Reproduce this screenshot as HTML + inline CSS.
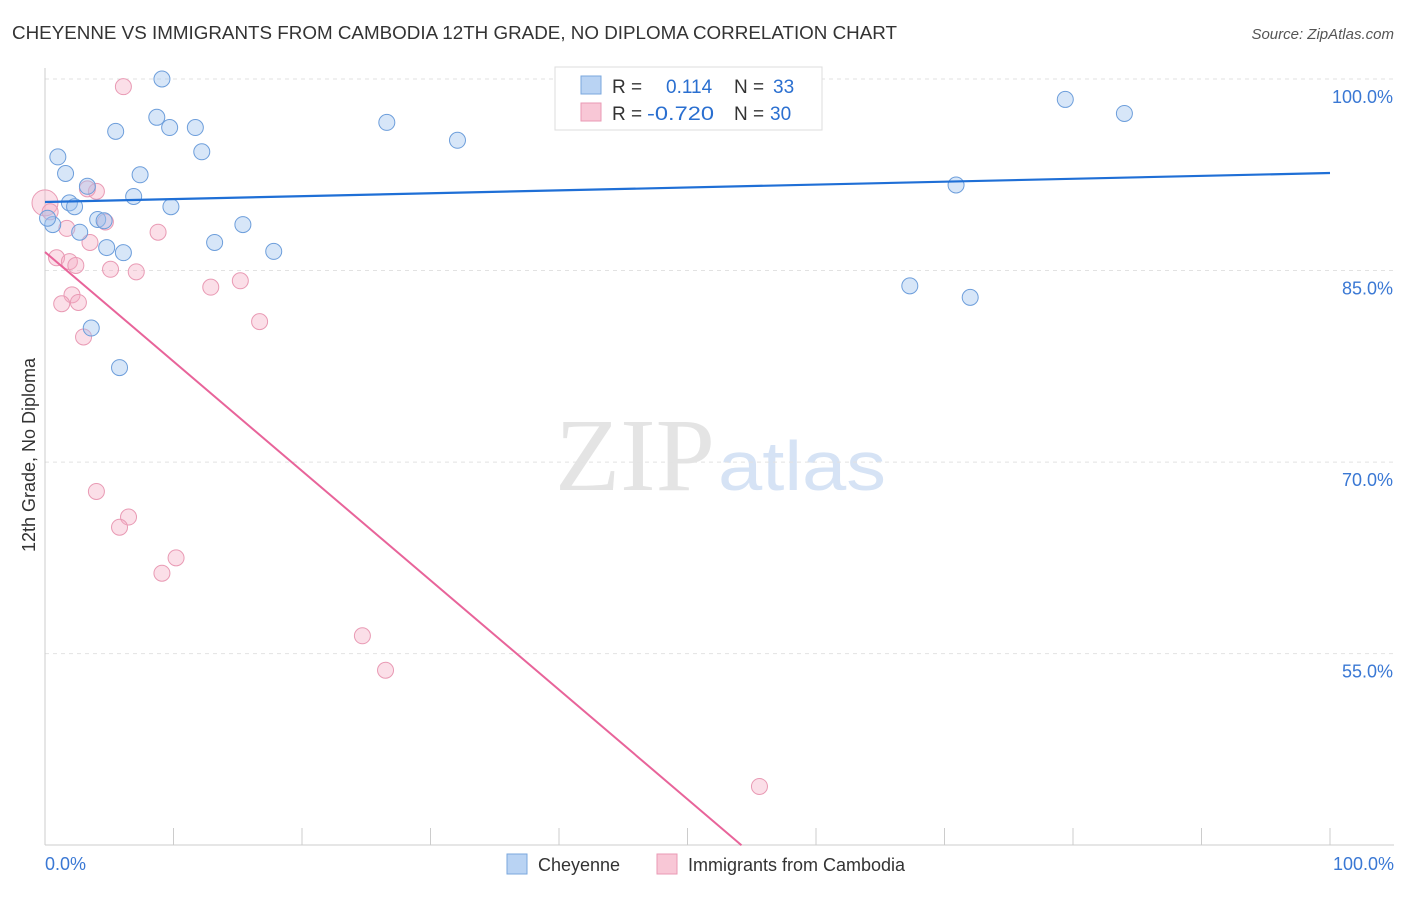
<!DOCTYPE html>
<html><head><meta charset="utf-8"><style>
body{margin:0;background:#fff;font-family:"Liberation Sans",sans-serif}
svg text{font-family:"Liberation Sans",sans-serif}
</style></head><body>
<svg id="chart" width="1406" height="892">
<text x="12" y="39" font-size="18" fill="#333" textLength="885" lengthAdjust="spacingAndGlyphs">CHEYENNE VS IMMIGRANTS FROM CAMBODIA 12TH GRADE, NO DIPLOMA CORRELATION CHART</text>
<text x="1394" y="39" font-size="15" fill="#555" font-style="italic" text-anchor="end">Source: ZipAtlas.com</text>
<text x="555" y="490" font-size="104" fill="#e4e4e4" textLength="160" lengthAdjust="spacingAndGlyphs" style="font-family:'Liberation Serif',serif">ZIP</text>
<text x="718" y="490" font-size="70" fill="#d6e3f5" textLength="168" lengthAdjust="spacingAndGlyphs">atlas</text>
<text transform="translate(35,455) rotate(-90)" font-size="18" fill="#333" text-anchor="middle">12th Grade, No Diploma</text>
<g id="grid"></g><g id="pts"></g><g id="lines"></g>
<g>
<rect x="555" y="67" width="267" height="63" fill="#fff" stroke="#ddd"/>
<rect x="581" y="76" width="20" height="18" fill="#b9d3f3" stroke="#7aa7de"/>
<rect x="581" y="103" width="20" height="18" fill="#f8c7d6" stroke="#ea9ab4"/>
<text x="612" y="93" font-size="19" fill="#333">R =</text><text x="666" y="93" font-size="19" fill="#2a6fd0">0.114</text>
<text x="734" y="93" font-size="19" fill="#333">N =</text><text x="773" y="93" font-size="19" fill="#2a6fd0">33</text>
<text x="612" y="120" font-size="19" fill="#333">R =</text><text x="647" y="120" font-size="19" fill="#2a6fd0" textLength="67" lengthAdjust="spacingAndGlyphs">-0.720</text>
<text x="734" y="120" font-size="19" fill="#333">N =</text><text x="770" y="120" font-size="19" fill="#2a6fd0">30</text>
</g>
<g>
<rect x="507" y="854" width="20" height="20" fill="#b9d3f3" stroke="#7aa7de"/>
<text x="538" y="871" font-size="18" fill="#333">Cheyenne</text>
<rect x="657" y="854" width="20" height="20" fill="#f8c7d6" stroke="#ea9ab4"/>
<text x="688" y="871" font-size="18" fill="#333">Immigrants from Cambodia</text>
</g>
</svg>
<script>
const blueX=[9.1,8.7,9.7,11.7,5.5,12.2,26.6,32.1,1.0,1.6,7.4,3.3,6.9,1.9,2.3,9.8,4.1,4.6,0.6,2.7,13.2,15.4,4.8,6.1,17.8,3.6,5.8,79.4,84.0,70.9,67.3,72.0,0.2];
const blueY=[100,97.0,96.2,96.2,95.9,94.3,96.6,95.2,93.9,92.6,92.5,91.6,90.8,90.3,90.0,90.0,89.0,88.9,88.6,88.0,87.2,88.6,86.8,86.4,86.5,80.5,77.4,98.4,97.3,91.7,83.8,82.9,89.1];
const pinkX=[6.1,0.0,0.4,4.0,3.3,4.7,1.7,0.9,1.9,2.4,5.1,7.1,8.8,3.5,2.1,1.3,2.6,3.0,12.9,15.2,16.7,4.0,6.5,5.8,10.2,9.1,24.7,26.5,55.6];
const pinkY=[99.4,90.3,89.6,91.2,91.4,88.8,88.3,86.0,85.7,85.4,85.1,84.9,88.0,87.2,83.1,82.4,82.5,79.8,83.7,84.2,81.0,67.7,65.7,64.9,62.5,61.3,56.4,53.7,44.6];
const blueLine=[90.37,92.64];
const pinkLine=[86.45,0.75];
const yTicks=[100,85,70,55];
const xTickVals=[0,10,20,30,40,50,60,70,80,90,100];
const NS="http://www.w3.org/2000/svg";
const sx=v=>45+v*12.85, sy=v=>79+(100-v)*12.77;
function mk(p,t,a){const e=document.createElementNS(NS,t);for(const k in a)e.setAttribute(k,a[k]);p.appendChild(e);return e;}
const g=document.getElementById('grid'),P=document.getElementById('pts'),L=document.getElementById('lines');
yTicks.forEach(v=>{
 const l=mk(g,'line',{x1:45,x2:1394,y1:sy(v),y2:sy(v),stroke:'#e2e2e2','stroke-dasharray':'4,4'});
 
 
 const t=mk(g,'text',{x:1393,y:sy(v)+24,'font-size':18,fill:'#3a78d4','text-anchor':'end'});t.textContent=v.toFixed(1)+'%';
 
 
});
const ax=mk(g,'line',{x1:45,x2:45,y1:68,y2:845,stroke:'#ccc'});


const bx=mk(g,'line',{x1:45,x2:1394,y1:845,y2:845,stroke:'#ccc'});


xTickVals.forEach(v=>{const l=mk(g,'line',{x1:sx(v),x2:sx(v),y1:828,y2:845,stroke:'#ccc'});
 
 });
[[0,'0.0%','start',45],[100,'100.0%','end',1394]].forEach(d=>{const t=mk(g,'text',{x:d[3],y:870,'font-size':18,fill:'#3a78d4','text-anchor':d[2]});t.textContent=d[1];
 
 });
pinkX.forEach((x,i)=>{const c=mk(P,'circle',{cx:sx(x),cy:sy(pinkY[i]),r:i==1?13:8,fill:'rgba(245,170,195,0.38)',stroke:'#e99ab4','stroke-width':1});
 
 });
blueX.forEach((x,i)=>{const c=mk(P,'circle',{cx:sx(x),cy:sy(blueY[i]),r:8,fill:'rgba(160,195,238,0.42)',stroke:'#6d9edb','stroke-width':1});
 
 });
const b=mk(L,'line',{x1:sx(0),y1:sy(blueLine[0]),x2:sx(100),y2:sy(blueLine[1]),stroke:'#1f6fd6','stroke-width':2.2});


const slope=(pinkLine[1]-pinkLine[0])/100;
let xe=100,ye=pinkLine[1];if(ye<40){xe=(40-pinkLine[0])/slope;ye=40;}
const p=mk(L,'line',{x1:sx(0),y1:sy(pinkLine[0]),x2:sx(xe),y2:sy(ye),stroke:'#e8649a','stroke-width':2});


</script>
</body></html>
